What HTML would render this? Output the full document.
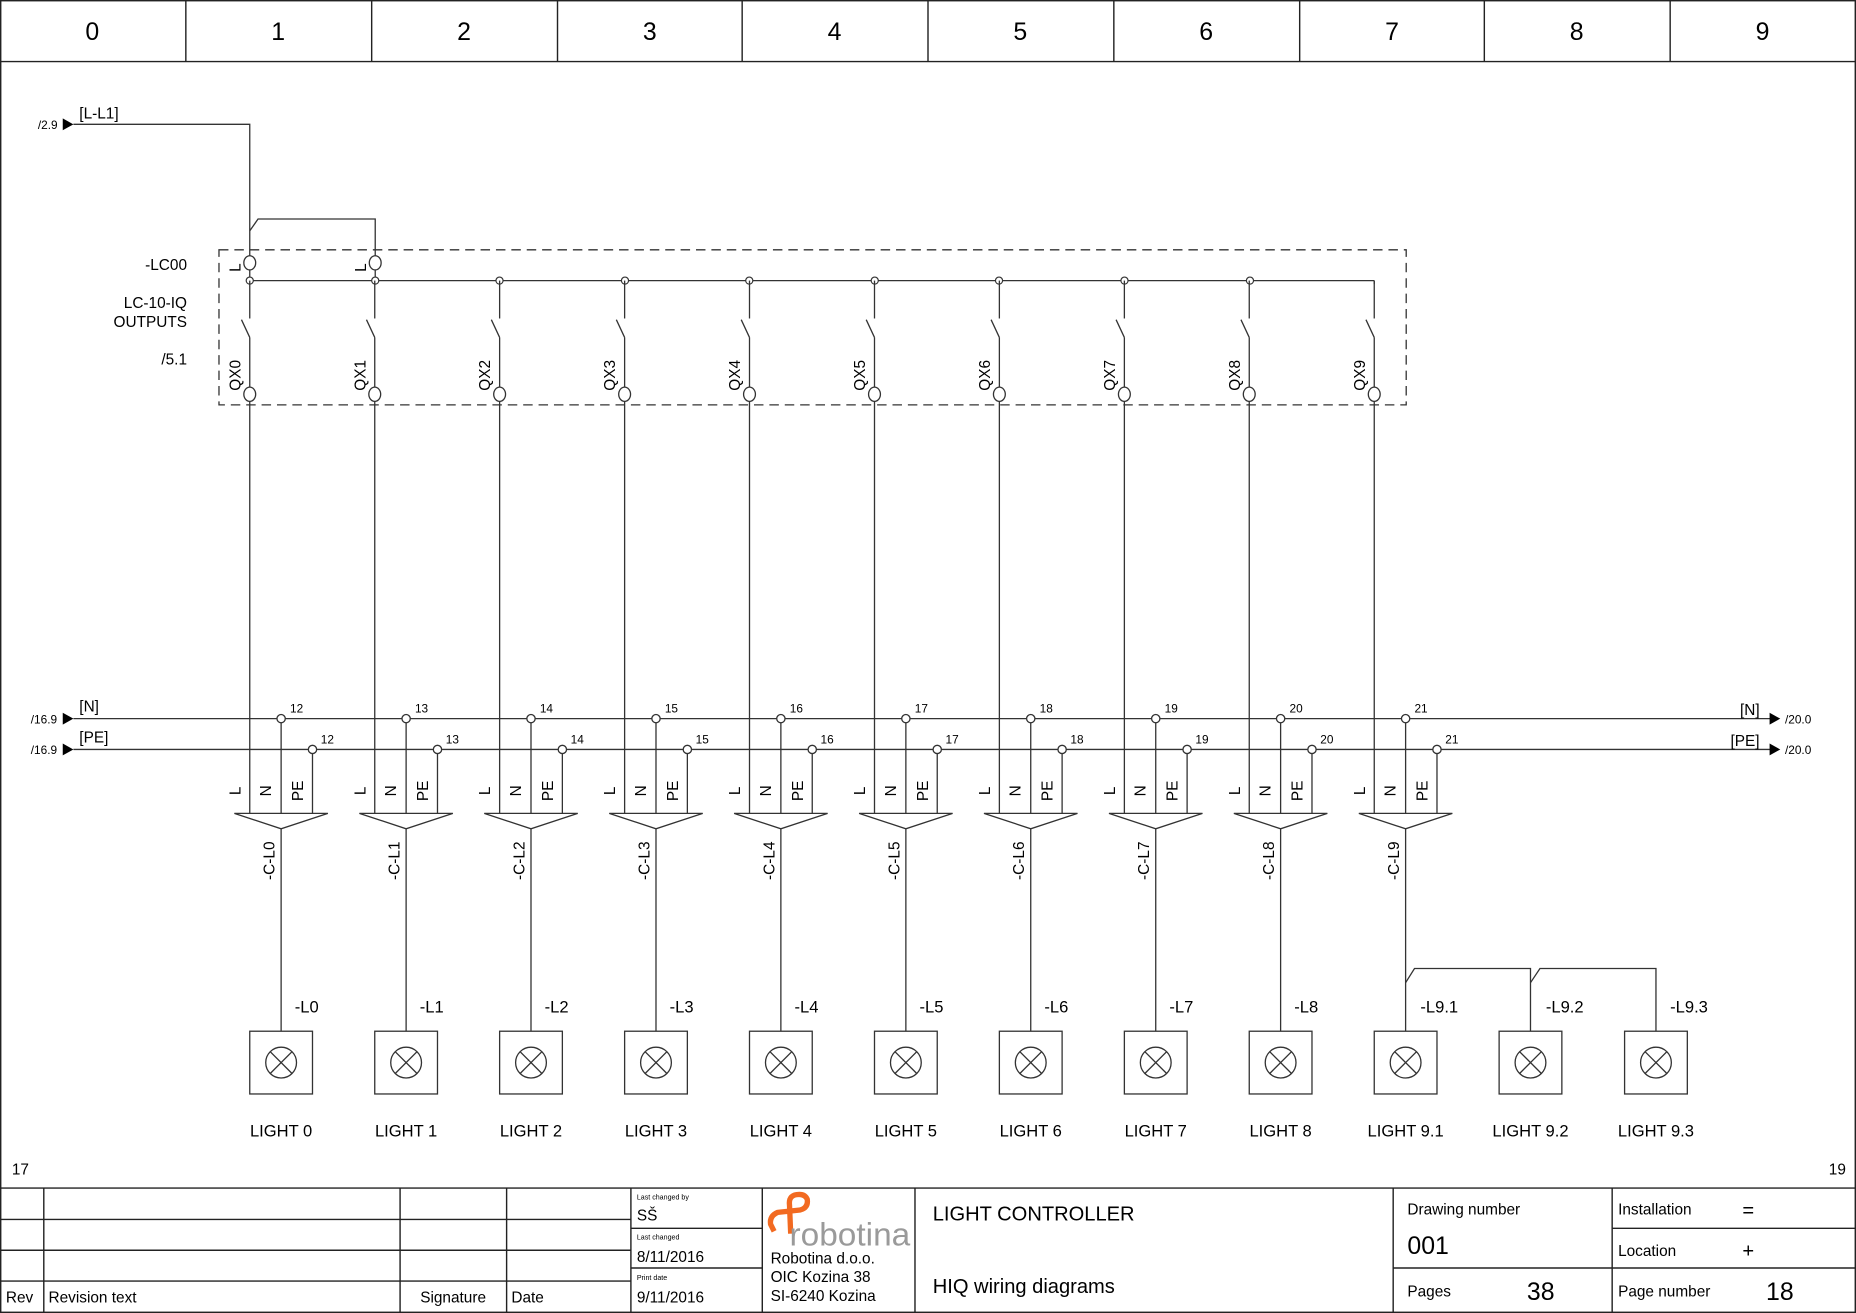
<!DOCTYPE html>
<html><head><meta charset="utf-8"><style>
html,body{margin:0;padding:0;background:#fff;}
svg{display:block;}
text{font-family:"Liberation Sans",Arial,sans-serif;fill:#000;}
</style></head><body>
<svg width="1856" height="1313" viewBox="0 0 1568 1109" preserveAspectRatio="none" xmlns="http://www.w3.org/2000/svg">
<defs>
<g id="col" fill="none" stroke="#333" stroke-width="1.1">
 <line x1="211" y1="237" x2="211" y2="269"/>
 <line x1="204" y1="270" x2="211" y2="285"/>
 <line x1="211" y1="285" x2="211" y2="327"/>
 <ellipse cx="211" cy="333" rx="5" ry="6" fill="#fff"/>
 <line x1="211" y1="339" x2="211" y2="687"/>
 <line x1="237.5" y1="610" x2="237.5" y2="687"/>
 <circle cx="237.5" cy="607" r="3.5" fill="#fff"/>
 <line x1="264" y1="636" x2="264" y2="687"/>
 <circle cx="264" cy="633" r="3.5" fill="#fff"/>
 <polygon points="198,687 277,687 237.5,700" fill="#fff"/>
 <text transform="translate(203,668) rotate(-90)" text-anchor="middle" font-size="13" stroke="none" style="fill:#000">L</text>
 <text transform="translate(229,668) rotate(-90)" text-anchor="middle" font-size="13" stroke="none" style="fill:#000">N</text>
 <text transform="translate(256,668) rotate(-90)" text-anchor="middle" font-size="13" stroke="none" style="fill:#000">PE</text>
</g>
<g id="lamp" fill="none" stroke="#333" stroke-width="1.1">
 <rect x="211" y="871" width="53" height="53"/>
 <circle cx="237.5" cy="897.5" r="13"/>
 <line x1="228.3" y1="888.3" x2="246.7" y2="906.7"/>
 <line x1="246.7" y1="888.3" x2="228.3" y2="906.7"/>
</g>
</defs>
<!-- border & header -->
<g fill="none" stroke="#222" stroke-width="1.2">
 <rect x="0.6" y="0.6" width="1566.8" height="1107.8"/>
 <line x1="0" y1="52" x2="1568" y2="52"/>
 <line x1="157" y1="0" x2="157" y2="52"/><line x1="314" y1="0" x2="314" y2="52"/>
 <line x1="471" y1="0" x2="471" y2="52"/><line x1="627" y1="0" x2="627" y2="52"/>
 <line x1="784" y1="0" x2="784" y2="52"/><line x1="941" y1="0" x2="941" y2="52"/>
 <line x1="1098" y1="0" x2="1098" y2="52"/><line x1="1254" y1="0" x2="1254" y2="52"/>
 <line x1="1411" y1="0" x2="1411" y2="52"/>
</g>
<g font-size="21" text-anchor="middle">
 <text x="78" y="34">0</text><text x="235" y="34">1</text><text x="392" y="34">2</text><text x="549" y="34">3</text><text x="705" y="34">4</text>
 <text x="862" y="34">5</text><text x="1019" y="34">6</text><text x="1176" y="34">7</text><text x="1332" y="34">8</text><text x="1489" y="34">9</text>
</g>
<!-- L-L1 feed -->
<g fill="none" stroke="#333" stroke-width="1.1">
 <polyline points="62,105 211,105 211,216"/>
 <polyline points="211,195 218,185 317,185 317,216"/>
 <ellipse cx="211" cy="222" rx="5" ry="6" fill="#fff"/>
 <ellipse cx="317" cy="222" rx="5" ry="6" fill="#fff"/>
 <line x1="211" y1="228" x2="211" y2="237"/>
 <line x1="317" y1="228" x2="317" y2="237"/>
 <line x1="211" y1="237" x2="1161" y2="237"/>
 <rect x="185" y="211" width="1003" height="131" stroke-dasharray="8,5"/>
 <line x1="62" y1="607" x2="1496" y2="607"/>
 <line x1="62" y1="633" x2="1496" y2="633"/>
</g>
<g fill="#fff" stroke="#333" stroke-width="1">
 <circle cx="211" cy="237" r="3"/><circle cx="317" cy="237" r="3"/><circle cx="422" cy="237" r="3"/><circle cx="528" cy="237" r="3"/><circle cx="633" cy="237" r="3"/>
 <circle cx="739" cy="237" r="3"/><circle cx="844" cy="237" r="3"/><circle cx="950" cy="237" r="3"/><circle cx="1056" cy="237" r="3"/>
</g>
<g fill="#000">
 <polygon points="53,100 62,105 53,110"/><polygon points="53,602 62,607 53,612"/><polygon points="53,628 62,633 53,638"/>
 <polygon points="1495,602 1504,607 1495,612"/><polygon points="1495,628 1504,633 1495,638"/>
</g>
<g font-size="10">
 <text x="32" y="109">/2.9</text><text x="26" y="611">/16.9</text><text x="26" y="637">/16.9</text>
 <text x="1508" y="611">/20.0</text><text x="1508" y="637">/20.0</text>
</g>
<g font-size="13">
 <text x="67" y="100">[L-L1]</text><text x="67" y="601">[N]</text><text x="67" y="627">[PE]</text>
 <text x="1470" y="604">[N]</text><text x="1462" y="630">[PE]</text>
 <text x="158" y="228" text-anchor="end">-LC00</text>
 <text x="158" y="260" text-anchor="end">LC-10-IQ</text>
 <text x="158" y="276" text-anchor="end">OUTPUTS</text>
 <text x="158" y="308" text-anchor="end">/5.1</text>
 <text transform="translate(203,226) rotate(-90)" text-anchor="middle">L</text>
 <text transform="translate(309,226) rotate(-90)" text-anchor="middle">L</text>
</g>
<!-- columns -->
<use href="#col"/><use href="#col" x="105.6"/><use href="#col" x="211.1"/><use href="#col" x="316.7"/><use href="#col" x="422.2"/>
<use href="#col" x="527.8"/><use href="#col" x="633.3"/><use href="#col" x="738.9"/><use href="#col" x="844.4"/><use href="#col" x="950"/>
<line x1="1161" y1="237" x2="1161" y2="240" stroke="#333"/>
<g fill="none" stroke="#333" stroke-width="1.1">
 <line x1="237.5" y1="700" x2="237.5" y2="871"/><line x1="343.1" y1="700" x2="343.1" y2="871"/><line x1="448.6" y1="700" x2="448.6" y2="871"/>
 <line x1="554.2" y1="700" x2="554.2" y2="871"/><line x1="659.7" y1="700" x2="659.7" y2="871"/><line x1="765.3" y1="700" x2="765.3" y2="871"/>
 <line x1="870.8" y1="700" x2="870.8" y2="871"/><line x1="976.4" y1="700" x2="976.4" y2="871"/><line x1="1081.9" y1="700" x2="1081.9" y2="871"/>
 <line x1="1187.5" y1="700" x2="1187.5" y2="871"/>
 <polyline points="1187.5,830 1195,818 1293,818 1293,871"/>
 <polyline points="1293,830 1301,818 1399,818 1399,871"/>
</g>
<use href="#lamp"/><use href="#lamp" x="105.6"/><use href="#lamp" x="211.1"/><use href="#lamp" x="316.7"/><use href="#lamp" x="422.2"/>
<use href="#lamp" x="527.8"/><use href="#lamp" x="633.3"/><use href="#lamp" x="738.9"/><use href="#lamp" x="844.4"/><use href="#lamp" x="950"/>
<use href="#lamp" x="1055.5"/><use href="#lamp" x="1161.5"/>
<g font-size="13">
 <text transform="translate(203,317) rotate(-90)" text-anchor="middle">QX0</text>
 <text transform="translate(308.6,317) rotate(-90)" text-anchor="middle">QX1</text>
 <text transform="translate(414.1,317) rotate(-90)" text-anchor="middle">QX2</text>
 <text transform="translate(519.7,317) rotate(-90)" text-anchor="middle">QX3</text>
 <text transform="translate(625.2,317) rotate(-90)" text-anchor="middle">QX4</text>
 <text transform="translate(730.8,317) rotate(-90)" text-anchor="middle">QX5</text>
 <text transform="translate(836.3,317) rotate(-90)" text-anchor="middle">QX6</text>
 <text transform="translate(941.9,317) rotate(-90)" text-anchor="middle">QX7</text>
 <text transform="translate(1047.4,317) rotate(-90)" text-anchor="middle">QX8</text>
 <text transform="translate(1153,317) rotate(-90)" text-anchor="middle">QX9</text>
 <text transform="translate(232,727) rotate(-90)" text-anchor="middle">-C-L0</text>
 <text transform="translate(337.6,727) rotate(-90)" text-anchor="middle">-C-L1</text>
 <text transform="translate(443.1,727) rotate(-90)" text-anchor="middle">-C-L2</text>
 <text transform="translate(548.7,727) rotate(-90)" text-anchor="middle">-C-L3</text>
 <text transform="translate(654.2,727) rotate(-90)" text-anchor="middle">-C-L4</text>
 <text transform="translate(759.8,727) rotate(-90)" text-anchor="middle">-C-L5</text>
 <text transform="translate(865.3,727) rotate(-90)" text-anchor="middle">-C-L6</text>
 <text transform="translate(970.9,727) rotate(-90)" text-anchor="middle">-C-L7</text>
 <text transform="translate(1076.4,727) rotate(-90)" text-anchor="middle">-C-L8</text>
 <text transform="translate(1182,727) rotate(-90)" text-anchor="middle">-C-L9</text>
</g>
<g font-size="10">
 <text x="245" y="602">12</text><text x="350.6" y="602">13</text><text x="456.1" y="602">14</text><text x="561.7" y="602">15</text><text x="667.2" y="602">16</text>
 <text x="772.8" y="602">17</text><text x="878.3" y="602">18</text><text x="983.9" y="602">19</text><text x="1089.4" y="602">20</text><text x="1195" y="602">21</text>
 <text x="271" y="628">12</text><text x="376.6" y="628">13</text><text x="482.1" y="628">14</text><text x="587.7" y="628">15</text><text x="693.2" y="628">16</text>
 <text x="798.8" y="628">17</text><text x="904.3" y="628">18</text><text x="1009.9" y="628">19</text><text x="1115.4" y="628">20</text><text x="1221" y="628">21</text>
</g>
<g font-size="14">
 <text x="249" y="855">-L0</text><text x="354.6" y="855">-L1</text><text x="460.1" y="855">-L2</text><text x="565.7" y="855">-L3</text><text x="671.2" y="855">-L4</text>
 <text x="776.8" y="855">-L5</text><text x="882.3" y="855">-L6</text><text x="987.9" y="855">-L7</text><text x="1093.4" y="855">-L8</text>
 <text x="1200" y="855">-L9.1</text><text x="1306" y="855">-L9.2</text><text x="1411" y="855">-L9.3</text>
</g>
<g font-size="14" text-anchor="middle">
 <text x="237.5" y="960">LIGHT 0</text><text x="343.1" y="960">LIGHT 1</text><text x="448.6" y="960">LIGHT 2</text><text x="554.2" y="960">LIGHT 3</text>
 <text x="659.7" y="960">LIGHT 4</text><text x="765.3" y="960">LIGHT 5</text><text x="870.8" y="960">LIGHT 6</text><text x="976.4" y="960">LIGHT 7</text>
 <text x="1081.9" y="960">LIGHT 8</text><text x="1187.5" y="960">LIGHT 9.1</text><text x="1293" y="960">LIGHT 9.2</text><text x="1399" y="960">LIGHT 9.3</text>
</g>
<g font-size="13"><text x="10" y="992">17</text><text x="1545" y="992">19</text></g>
<!-- title block -->
<g fill="none" stroke="#222" stroke-width="1.2">
 <line x1="0" y1="1003.5" x2="1568" y2="1003.5"/>
 <line x1="0" y1="1030" x2="533" y2="1030"/><line x1="0" y1="1056" x2="533" y2="1056"/><line x1="0" y1="1082" x2="533" y2="1082"/>
 <line x1="37" y1="1003" x2="37" y2="1109"/><line x1="338" y1="1003" x2="338" y2="1109"/><line x1="428" y1="1003" x2="428" y2="1109"/>
 <line x1="533" y1="1003" x2="533" y2="1109"/><line x1="644" y1="1003" x2="644" y2="1109"/><line x1="773" y1="1003" x2="773" y2="1109"/>
 <line x1="1177" y1="1003" x2="1177" y2="1109"/><line x1="1362" y1="1003" x2="1362" y2="1109"/>
 <line x1="533" y1="1037.5" x2="644" y2="1037.5"/><line x1="533" y1="1071" x2="644" y2="1071"/>
 <line x1="1177" y1="1071" x2="1568" y2="1071"/><line x1="1362" y1="1037.5" x2="1568" y2="1037.5"/>
</g>
<g font-size="13">
 <text x="5" y="1100">Rev</text><text x="41" y="1100">Revision text</text><text x="355" y="1100">Signature</text><text x="432" y="1100">Date</text>
 <text x="538" y="1013" font-size="6">Last changed by</text><text x="538" y="1031" font-size="13">SŠ</text>
 <text x="538" y="1047" font-size="6">Last changed</text><text x="538" y="1066">8/11/2016</text>
 <text x="538" y="1081" font-size="6">Print date</text><text x="538" y="1100">9/11/2016</text>
 <text x="651" y="1067">Robotina d.o.o.</text><text x="651" y="1083">OIC Kozina 38</text><text x="651" y="1099">SI-6240 Kozina</text>
 <text x="1189" y="1026">Drawing number</text><text x="1189" y="1095">Pages</text>
 <text x="1367" y="1026">Installation</text><text x="1367" y="1061">Location</text><text x="1367" y="1095">Page number</text>
</g>
<g font-size="17">
 <text x="788" y="1031">LIGHT CONTROLLER</text><text x="788" y="1092">HIQ wiring diagrams</text>
 <text x="1472" y="1028">=</text><text x="1472" y="1062">+</text>
</g>
<g font-size="21">
 <text x="1189" y="1059">001</text><text x="1290" y="1098">38</text><text x="1492" y="1098">18</text>
</g>
<path d="M654,1040 L651,1034 Q650,1027 657,1024 L676,1022 Q683,1020 682,1013 Q680,1008 673,1009 Q666,1010 667,1018 L668,1042" fill="none" stroke="#f26a21" stroke-width="4.5" stroke-linejoin="round"/>
<text x="667" y="1052" font-size="27" style="fill:#9a9a9a" textLength="102" lengthAdjust="spacingAndGlyphs">robotina</text>
</svg>
</body></html>
